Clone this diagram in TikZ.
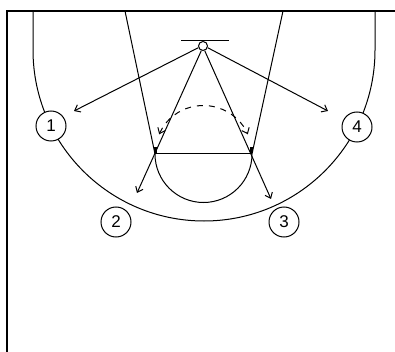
\documentclass[tikz,border=0pt]{standalone}
\usepackage{fontspec}
\setmainfont{Liberation Sans}
\usetikzlibrary{arrows.meta}
\begin{document}
\begin{tikzpicture}[x=1pt,y=1pt,yscale=-1,
  line width=1pt,
  court/.style={line width=1pt},
  frameline/.style={line width=1.4pt},
  player/.style={circle,draw,fill=white,minimum size=30pt,inner sep=0pt,
    line width=1pt,font=\fontsize{17}{17}\selectfont},
  pass/.style={-{Straight Barb[length=5pt,width=8pt]}},
  move/.style={dash pattern=on 6pt off 6pt,
    {Straight Barb[length=5pt,width=8pt]}-{Straight Barb[length=5pt,width=8pt]}}]
\useasboundingbox (0,0) rectangle (395,352);
% frame
\draw[frameline] (7,352) -- (7,11) -- (395,11);
% three-point line
\draw[court] (33,11) -- (33,50) arc[start angle=180,end angle=0,radius=171] -- (375,11);
% lane
\draw[court] (125,11) -- (155,154);
\draw[court] (283,11) -- (252,154);
\draw[court] (155,154) -- (252,154);
\draw[court] (155,154) arc[start angle=180,end angle=0,radius=48.5];
\fill (154.3,147.5) rectangle (157.3,153.5);
\fill (250.2,147.5) rectangle (253.2,153.5);
% backboard and basket
\draw[court] (181,41) -- (229,41);
\node[circle,draw,fill=white,minimum size=9pt,inner sep=0pt,line width=1pt] (basket) at (203,46) {};
% dashed movement arc
\draw[move] (159.2,134.3) arc[start angle=204,end angle=336,radius=48.5];
% pass targets
\coordinate (t1) at (74,111);
\coordinate (t4) at (328,111);
\coordinate (t2) at (137,193);
\coordinate (t3) at (271,199);
\draw[pass] (basket.200) -- (t1);
\draw[pass] (basket.340) -- (t4);
\draw[pass] (basket.250) -- (t2);
\draw[pass] (basket.290) -- (t3);
% players
\node[player] (p1) at (51,126) {1};
\node[player] (p4) at (357,127) {4};
\node[player] (p2) at (116,222) {2};
\node[player] (p3) at (284,222) {3};
\end{tikzpicture}
\end{document}
